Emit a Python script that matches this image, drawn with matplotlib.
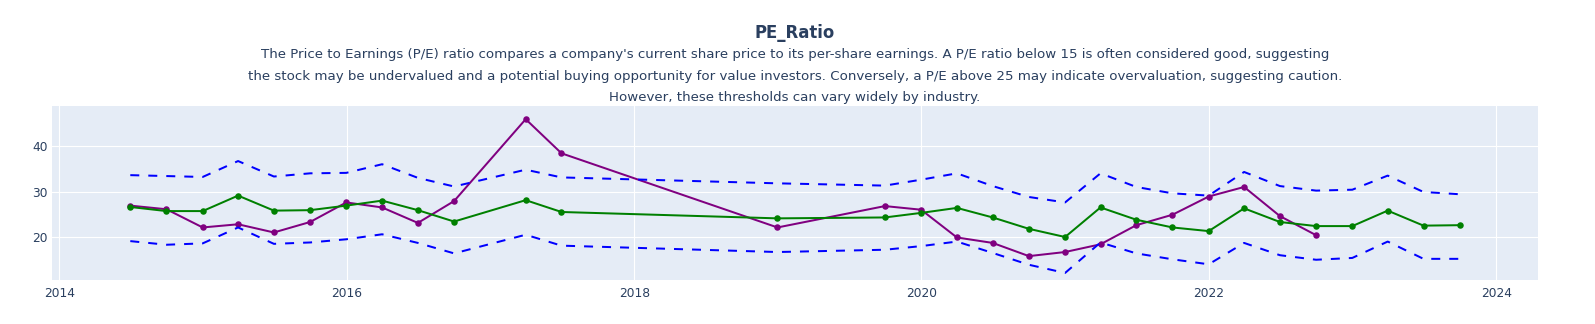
import matplotlib
matplotlib.use("Agg")
import matplotlib.pyplot as plt
import matplotlib.dates as mdates
import pandas as pd

# Quarter-end reporting dates
company_dates = [
    "2014-06-30", "2014-09-30", "2014-12-31", "2015-03-31", "2015-06-30",
    "2015-09-30", "2015-12-31", "2016-03-31", "2016-06-30", "2016-09-30",
    "2017-03-31", "2017-06-30", "2018-12-31", "2019-09-30", "2019-12-31",
    "2020-03-31", "2020-06-30", "2020-09-30", "2020-12-31", "2021-03-31",
    "2021-06-30", "2021-09-30", "2021-12-31", "2022-03-31", "2022-06-30",
    "2022-09-30",
]
company_pe = [
    26.9, 26.1, 22.1, 22.8, 21.0, 23.3, 27.6, 26.5, 23.1, 27.9,
    45.9, 38.4, 22.1, 26.8, 26.0, 19.9, 18.7, 15.8, 16.7, 18.4,
    22.6, 24.9, 28.9, 31.0, 24.6, 20.4,
]

industry_dates = company_dates[:-1] + [
    "2022-09-30", "2022-12-31", "2023-03-31", "2023-06-30", "2023-09-30",
]
industry_pe = [
    26.6, 25.7, 25.7, 29.1, 25.8, 25.9, 26.9, 28.0, 25.9, 23.4,
    28.1, 25.5, 24.1, 24.3, 25.3, 26.4, 24.3, 21.8, 20.0, 26.5,
    23.8, 22.1, 21.3, 26.3, 23.3, 22.4, 22.4, 25.8, 22.5, 22.6,
]
industry_upper = [
    33.6, 33.4, 33.2, 36.7, 33.3, 34.0, 34.1, 36.0, 33.0, 31.1,
    34.8, 33.1, 31.8, 31.3, 32.6, 34.0, 31.2, 28.8, 27.6, 34.0,
    31.0, 29.6, 29.1, 34.3, 31.2, 30.2, 30.4, 33.5, 29.9, 29.4,
]
industry_lower = [
    19.1, 18.3, 18.6, 22.1, 18.5, 18.8, 19.5, 20.6, 18.7, 16.4,
    20.5, 18.1, 16.7, 17.2, 18.0, 19.0, 16.5, 13.9, 12.1, 18.8,
    16.4, 15.1, 14.0, 18.7, 16.0, 15.0, 15.4, 19.0, 15.2, 15.2,
]

title = "PE_Ratio"
subtitle_lines = [
    "The Price to Earnings (P/E) ratio compares a company's current share price to its per-share earnings. A P/E ratio below 15 is often considered good, suggesting",
    "the stock may be undervalued and a potential buying opportunity for value investors. Conversely, a P/E above 25 may indicate overvaluation, suggesting caution.",
    "However, these thresholds can vary widely by industry.",
]
x_ticks = ["2014-01-01", "2016-01-01", "2018-01-01", "2020-01-01", "2022-01-01", "2024-01-01"]
y_ticks = [20, 30, 40]

TEXT = "#2a3f5f"
PX = 72 / 100  # points per pixel at dpi 100

plt.rcParams["font.family"] = ["DejaVu Sans"]

fig = plt.figure(figsize=(15.95, 3.24), dpi=100)
W, H = 1595, 324
left, right, top, bottom = 52, 1538, 106, 280
ax = fig.add_axes([left / W, 1 - bottom / H, (right - left) / W, (bottom - top) / H])
ax.set_facecolor("#E5ECF6")
for s in ax.spines.values():
    s.set_visible(False)

cd = pd.to_datetime(company_dates)
idt = pd.to_datetime(industry_dates)

lw = 2 * PX
ms = 6.5 * PX
ax.plot(cd, company_pe, color="purple", lw=lw, marker="o", ms=ms, mew=0, zorder=3)
ax.plot(idt, industry_pe, color="green", lw=lw, marker="o", ms=ms, mew=0, zorder=4)
ax.plot(idt, industry_upper, color="blue", lw=lw, dashes=(4.5, 4.5), zorder=5)
ax.plot(idt, industry_lower, color="blue", lw=lw, dashes=(4.5, 4.5), zorder=5)

ax.set_xlim(pd.Timestamp("2013-12-13"), pd.Timestamp("2024-04-16"))
ax.set_ylim(10.55, 48.8)
ax.set_xticks(pd.to_datetime(x_ticks))
ax.xaxis.set_major_formatter(mdates.DateFormatter("%Y"))
ax.set_yticks(y_ticks)
ax.grid(True, color="white", lw=1 * PX + 0.1)
ax.set_axisbelow(True)
ax.tick_params(length=0, labelsize=12.3 * PX, labelcolor=TEXT)
ax.tick_params(axis="y", pad=3)
ax.tick_params(axis="x", pad=5)

# Title and the explanatory lines beneath it
fig.text(795 / W, 1 - 38 / H, title, ha="center", va="baseline",
         fontsize=16.5 * PX, fontweight="bold", color=TEXT)
for i, line in enumerate(subtitle_lines):
    fig.text(795 / W, 1 - (58.3 + 21.4 * i) / H, line, ha="center", va="baseline",
             fontsize=13.35 * PX, color=TEXT)

fig.savefig("out.png", dpi=100, facecolor="white")
